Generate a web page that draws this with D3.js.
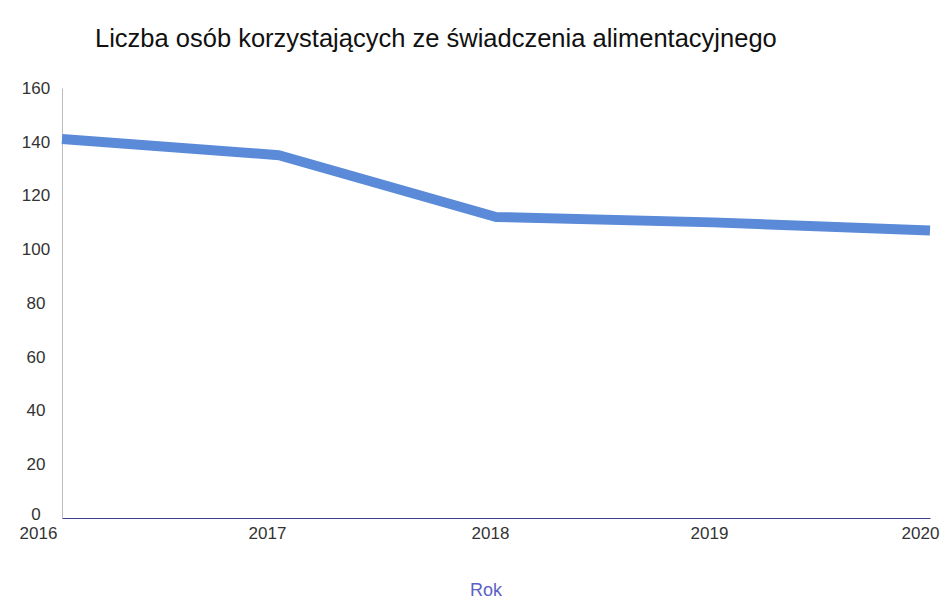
<!DOCTYPE html>
<html>
<head>
<meta charset="utf-8">
<script src="https://cdn.jsdelivr.net/npm/d3@7"></script>
<style>
    body { margin: 0; background: #fff; }
    #chart { width: 947px; height: 601px; }
    text { font-family: "Liberation Sans", Arial, sans-serif; }
</style>
</head>
<body>
<div id="chart"></div>
<script>
// data
const years = [2016, 2017, 2018, 2019, 2020];
const persons = [141, 135, 112, 110, 107];
const yTicks = [0, 20, 40, 60, 80, 100, 120, 140, 160];
const title = "Liczba osób korzystających ze świadczenia alimentacyjnego";
const xTitle = "Rok";

let margin = {top: 88, right: 17, bottom: 83, left: 62};
let width = 947 - margin.left - margin.right;
let height = 601 - margin.top - margin.bottom;

let svg = d3.select("#chart").append("svg")
    .attr("width", 947)
    .attr("height", 601);

let g = svg.append("g")
    .attr("transform", `translate(${margin.left}, ${margin.top})`);

let x = d3.scalePoint()
    .domain(years)
    .range([0, width]);

let y = d3.scaleLinear()
    .domain([0, 160])
    .range([height, 0]);

// title
svg.append("text")
    .attr("x", 95)
    .attr("y", 47)
    .attr("font-size", 25.5)
    .attr("fill", "#111")
    .text(title);

// y axis
let yAxis = g.append("g")
    .call(d3.axisLeft(y).tickValues(yTicks).tickSize(0).tickPadding(0));
yAxis.select(".domain").attr("stroke", "#bbb");
yAxis.selectAll("text")
    .attr("font-size", 17)
    .attr("fill", "#333")
    .attr("text-anchor", "middle")
    .attr("x", -26)
    .attr("dy", d => d === 0 ? "0.1em" : "0.32em");

// x axis
let xAxis = g.append("g")
    .attr("transform", `translate(0, ${height})`)
    .call(d3.axisBottom(x).tickSize(0).tickPadding(9).tickFormat(d3.format("d")));
xAxis.select(".domain").attr("stroke", "#3a3f8f").attr("stroke-width", 1.2);
xAxis.selectAll("text")
    .attr("font-size", 17)
    .attr("fill", "#333");
const xShift = [-24, -12, -6, -4, -10];
xAxis.selectAll(".tick text")
    .attr("dx", (d, i) => xShift[i]);

// x axis title
svg.append("text")
    .attr("x", margin.left + width / 2 - 10)
    .attr("y", 596)
    .attr("text-anchor", "middle")
    .attr("font-size", 18)
    .attr("fill", "#5b5fc7")
    .text(xTitle);

// line
let line = d3.line()
    .x((d, i) => x(years[i]))
    .y(d => y(d));

g.append("path")
    .datum(persons)
    .attr("fill", "none")
    .attr("stroke", "#5a8ad8")
    .attr("stroke-width", 10)
    .attr("stroke-linejoin", "round")
    .attr("d", line);
</script>
</body>
</html>
